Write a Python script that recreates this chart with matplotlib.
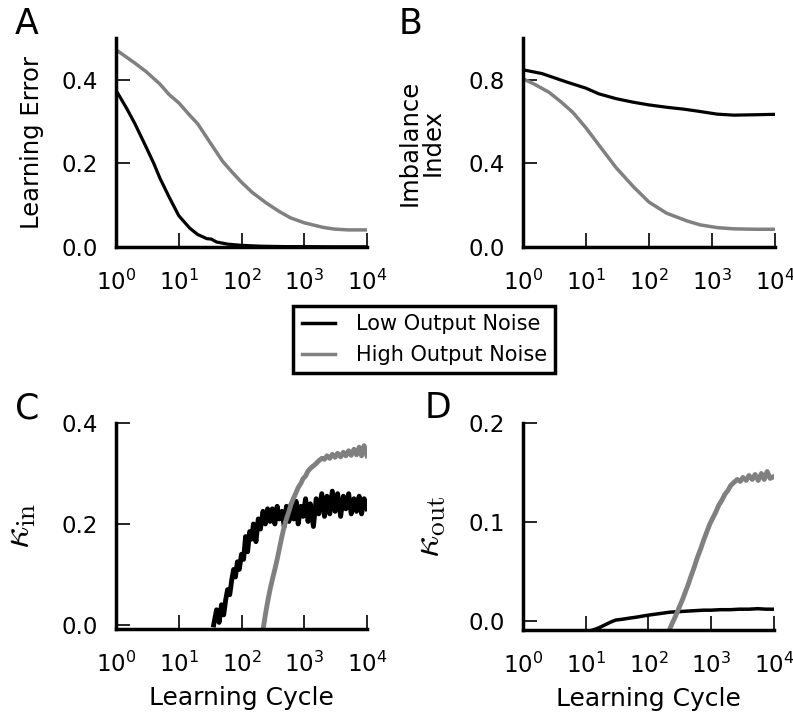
import numpy as np
import matplotlib
matplotlib.use('Agg')
import matplotlib.pyplot as plt

# A: learning error
err_low_x = [1, 1.5, 2, 3, 4, 5, 7, 10, 15, 20, 28, 33, 40, 60, 100, 200, 500, 1000, 3000, 10000]
err_low_y = [0.375, 0.33, 0.295, 0.24, 0.2, 0.165, 0.12, 0.075, 0.045, 0.03, 0.02, 0.019, 0.012, 0.007,
             0.004, 0.002, 0.001, 0.001, 0.0005, 0.0005]
err_high_x = [1, 2, 3, 5, 7, 10, 15, 20, 30, 50, 70, 100, 150, 250, 400, 600, 1000, 2000, 3000, 5000, 10000]
err_high_y = [0.472, 0.44, 0.42, 0.39, 0.365, 0.345, 0.315, 0.295, 0.255, 0.205, 0.18, 0.155, 0.13,
              0.105, 0.085, 0.07, 0.058, 0.047, 0.043, 0.041, 0.041]

# B: imbalance index
imb_low_x = [1, 2, 5, 10, 16, 30, 56, 100, 200, 350, 600, 1200, 2200, 5000, 10000]
imb_low_y = [0.848, 0.83, 0.789, 0.76, 0.733, 0.71, 0.693, 0.68, 0.668, 0.66, 0.65, 0.636, 0.631, 0.633, 0.635]
imb_high_x = [1, 1.5, 2.6, 4, 6.2, 10, 16.5, 30, 56, 100, 190, 400, 650, 1200, 2200, 5000, 10000]
imb_high_y = [0.805, 0.78, 0.74, 0.695, 0.644, 0.57, 0.483, 0.38, 0.29, 0.215, 0.162, 0.125, 0.106,
              0.093, 0.087, 0.085, 0.085]

# C: kappa_in
kin_low_x = [36, 40, 44, 48, 52, 56, 60, 65, 70, 75, 80, 86, 92, 100, 108, 116, 125, 135, 145, 155, 170,
             185, 200, 220, 240, 260, 285, 310, 340, 370, 400, 440, 480, 520, 570, 620, 680, 740, 800,
             880, 960, 1050, 1150, 1250, 1400, 1550, 1700, 1900, 2100, 2300, 2550, 2800, 3100, 3400,
             3800, 4200, 4600, 5100, 5600, 6200, 6800, 7500, 8200, 9000, 10000]
kin_low_y = [0.0, 0.03, 0.005, 0.04, 0.02, 0.05, 0.07, 0.06, 0.09, 0.11, 0.095, 0.125, 0.11, 0.14, 0.13,
             0.175, 0.145, 0.185, 0.17, 0.2, 0.165, 0.21, 0.19, 0.225, 0.2, 0.23, 0.205, 0.23, 0.2, 0.235,
             0.21, 0.225, 0.195, 0.235, 0.205, 0.24, 0.21, 0.245, 0.2, 0.235, 0.215, 0.25, 0.205, 0.24,
             0.195, 0.25, 0.22, 0.26, 0.215, 0.255, 0.22, 0.265, 0.225, 0.26, 0.215, 0.255, 0.23, 0.26,
             0.22, 0.25, 0.225, 0.255, 0.22, 0.25, 0.23]
kin_high_x = [220, 240, 260, 285, 310, 340, 370, 400, 440, 480, 520, 570, 620, 680, 740, 800, 880, 960,
              1050, 1150, 1250, 1400, 1550, 1700, 1900, 2100, 2300, 2550, 2800, 3100, 3400, 3800, 4200,
              4600, 5100, 5600, 6200, 6800, 7500, 8200, 9000, 10000]
kin_high_y = [-0.01, 0.02, 0.045, 0.07, 0.09, 0.11, 0.13, 0.15, 0.175, 0.195, 0.21, 0.225, 0.24, 0.252,
              0.262, 0.272, 0.28, 0.29, 0.295, 0.305, 0.31, 0.315, 0.32, 0.325, 0.33, 0.328, 0.335, 0.33,
              0.338, 0.332, 0.34, 0.333, 0.342, 0.335, 0.345, 0.336, 0.348, 0.337, 0.352, 0.335, 0.355, 0.335]

# D: kappa_out
kout_low_x = [13, 16, 20, 25, 30, 40, 50, 65, 80, 100, 130, 170, 220, 300, 400, 550, 750, 1000, 1400,
              2000, 2800, 4000, 5500, 7500, 10000]
kout_low_y = [-0.009, -0.007, -0.004, -0.001, 0.001, 0.002, 0.003, 0.004, 0.005, 0.006, 0.007, 0.008,
              0.009, 0.0095, 0.01, 0.0105, 0.011, 0.011, 0.0115, 0.0115, 0.012, 0.012, 0.0125, 0.012, 0.012]
kout_high_x = [215, 240, 270, 300, 340, 380, 430, 480, 540, 600, 680, 760, 850, 950, 1060, 1180, 1320,
               1480, 1650, 1850, 2050, 2300, 2600, 2900, 3200, 3600, 4000, 4500, 5000, 5600, 6300, 7000,
               7800, 8700, 10000]
kout_high_y = [-0.009, -0.002, 0.005, 0.012, 0.02, 0.028, 0.037, 0.046, 0.055, 0.064, 0.073, 0.082, 0.09,
               0.098, 0.104, 0.11, 0.117, 0.122, 0.128, 0.132, 0.137, 0.14, 0.143, 0.141, 0.145, 0.142,
               0.147, 0.143, 0.148, 0.142, 0.149, 0.143, 0.151, 0.144, 0.146]

GRAY = '#808080'

fig = plt.figure(figsize=(7.93, 7.15), dpi=100)
axA = fig.add_axes([0.1463, 0.6545, 0.3165, 0.2923])
axB = fig.add_axes([0.6595, 0.6545, 0.3178, 0.2923])
axC = fig.add_axes([0.1463, 0.1203, 0.3165, 0.2881])
axD = fig.add_axes([0.6595, 0.1189, 0.3165, 0.2895])

lA1, = axA.plot(err_low_x, err_low_y, color='k', lw=2.3, label='Low Output Noise')
lA2, = axA.plot(err_high_x, err_high_y, color=GRAY, lw=2.5, label='High Output Noise')
axA.set_ylim(0, 0.5)
axA.set_yticks([0, 0.2, 0.4])
axA.set_ylabel('Learning Error', fontsize=17.5)

axB.plot(imb_low_x, imb_low_y, color='k', lw=2.3)
axB.plot(imb_high_x, imb_high_y, color=GRAY, lw=2.5)
axB.set_ylim(0, 1.0)
axB.set_yticks([0, 0.4, 0.8])
axB.set_ylabel('Imbalance\nIndex', fontsize=17.5, linespacing=0.95)

axC.plot(kin_low_x, kin_low_y, color='k', lw=3.5)
axC.plot(kin_high_x, kin_high_y, color=GRAY, lw=3.5)
axC.set_ylim(-0.008, 0.4)
axC.set_yticks([0, 0.2, 0.4])
axC.set_ylabel(r'$\kappa_{\rm in}$', fontsize=28, math_fontfamily='cm')
axC.set_xlabel('Learning Cycle', fontsize=18, labelpad=7)

axD.plot(kout_low_x, kout_low_y, color='k', lw=2.5)
axD.plot(kout_high_x, kout_high_y, color=GRAY, lw=3.5)
axD.set_ylim(-0.009, 0.2)
axD.set_yticks([0, 0.1, 0.2])
axD.set_ylabel(r'$\kappa_{\rm out}$', fontsize=28, math_fontfamily='cm')
axD.set_xlabel('Learning Cycle', fontsize=18, labelpad=7)

for ax in (axA, axB, axC, axD):
    ax.set_xscale('log')
    ax.set_xlim(1, 1e4)
    ax.set_xticks([1, 10, 100, 1000, 10000])
    for s in ('top', 'right'):
        ax.spines[s].set_visible(False)
    for s in ('left', 'bottom'):
        ax.spines[s].set_linewidth(2.5)
    ax.tick_params(which='major', direction='in', length=10, width=1.2, labelsize=16.5)
    ax.tick_params(axis='x', which='major', pad=16)
    ax.tick_params(axis='y', which='major', pad=13)
    ax.tick_params(which='minor', direction='in', length=5, width=1.0)
    ax.tick_params(axis='y', which='minor', left=False)
    ax.set_yticklabels(['%.1f' % t for t in ax.get_yticks()])

axA.yaxis.set_label_coords(-0.285, 0.5)
axB.yaxis.set_label_coords(-0.31, 0.5)
axC.yaxis.set_label_coords(-0.31, 0.5)
axD.yaxis.set_label_coords(-0.30, 0.5)

fig.text(0.019, 0.953, 'A', fontsize=25)
fig.text(0.503, 0.953, 'B', fontsize=25)
fig.text(0.019, 0.415, 'C', fontsize=25)
fig.text(0.535, 0.415, 'D', fontsize=25)

leg = fig.legend(handles=[lA1, lA2], loc='center', bbox_to_anchor=(0.535, 0.525), fontsize=15,
                 frameon=True, fancybox=False, framealpha=1, handlelength=1.6, handletextpad=1.0,
                 borderpad=0.4)
leg.get_frame().set_edgecolor('k')
leg.get_frame().set_linewidth(2.5)
for h in leg.get_lines():
    h.set_linewidth(2.5)

fig.savefig('out.png', dpi=100)
